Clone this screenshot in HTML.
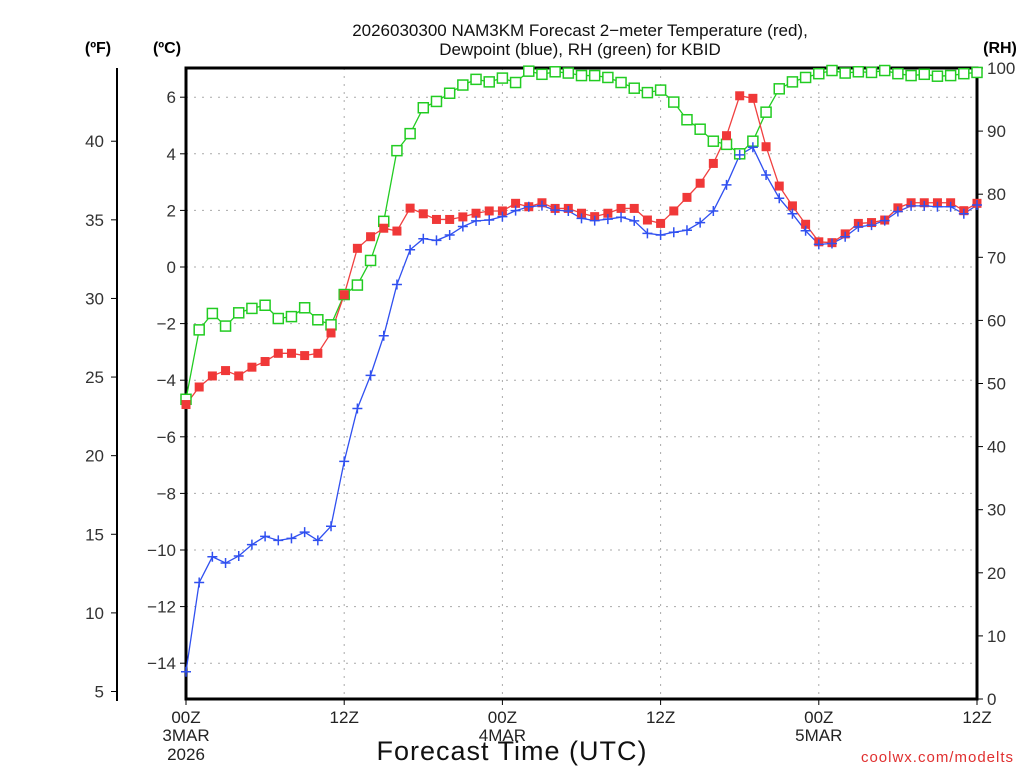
<!DOCTYPE html>
<html><head><meta charset="utf-8"><style>
body{margin:0;background:#fff;width:1024px;height:768px;overflow:hidden}
svg{font-family:"Liberation Sans",sans-serif}
</style></head><body>
<svg id="chart" width="1024" height="768" viewBox="0 0 1024 768" xmlns="http://www.w3.org/2000/svg">
<text x="580" y="36" text-anchor="middle" font-size="17" fill="#111">2026030300 NAM3KM Forecast 2−meter Temperature (red),</text>
<text x="580" y="55" text-anchor="middle" font-size="17" fill="#111">Dewpoint (blue), RH (green) for KBID</text>
<text x="98" y="53" text-anchor="middle" font-size="16" font-weight="bold">(ºF)</text>
<text x="167" y="53" text-anchor="middle" font-size="16" font-weight="bold">(ºC)</text>
<text x="1000" y="53" text-anchor="middle" font-size="16" font-weight="bold">(RH)</text>
<text x="512" y="760" text-anchor="middle" font-size="27" letter-spacing="1" fill="#111">Forecast Time (UTC)</text>
<text x="1014" y="762" text-anchor="end" font-size="15" fill="#e03030" letter-spacing="1">coolwx.com/modelts</text>
<g id="grid"></g><g id="axes"></g><g id="series"></g>
</svg>
<script>
const hours = Array.from({length:61},(_,i)=>i);
const tempC = [-4.86,-4.24,-3.85,-3.66,-3.85,-3.54,-3.34,-3.05,-3.05,-3.13,-3.05,-2.33,-0.98,0.66,1.07,1.37,1.27,2.08,1.88,1.68,1.68,1.77,
1.90,1.98,1.98,2.25,2.13,2.27,2.07,2.07,1.90,1.78,1.90,2.07,2.07,1.66,1.54,1.98,2.46,2.96,3.66,
4.64,6.05,5.96,4.25,2.86,2.16,1.51,0.89,0.86,1.17,1.54,1.57,1.66,2.09,2.27,2.27,2.27,2.27,1.99,2.25];
const dewC = [-14.3,-11.15,-10.24,-10.46,-10.21,-9.81,-9.52,-9.66,-9.59,-9.37,-9.66,-9.16,-6.87,-5.0,-3.83,-2.43,-0.62,0.61,1.0,0.94,
1.13,1.43,1.63,1.66,1.78,1.99,2.13,2.17,2.01,1.98,1.72,1.64,1.69,1.76,1.63,1.19,1.13,1.23,1.30,1.57,1.98,
2.90,3.96,4.23,3.25,2.43,1.88,1.28,0.80,0.83,1.07,1.42,1.48,1.64,1.96,2.16,2.16,2.13,2.13,1.88,2.19];
const rh = [47.5,58.5,61.1,59.1,61.2,61.9,62.4,60.3,60.6,62.0,60.1,59.3,64.1,65.6,69.5,75.7,86.9,89.6,93.7,94.7,
96.0,97.3,98.2,97.8,98.4,97.7,99.5,99.0,99.4,99.2,98.8,98.8,98.5,97.7,96.8,96.1,96.5,94.6,91.8,90.3,88.4,
87.9,86.4,88.4,93.0,96.7,97.8,98.5,99.1,99.6,99.2,99.4,99.3,99.6,99.1,98.8,99.0,98.7,98.8,99.1,99.3];
const cTicks = [6,4,2,0,-2,-4,-6,-8,-10,-12,-14];
const fTicks = [40,35,30,25,20,15,10,5];
const rhTicks = [100,90,80,70,60,50,40,30,20,10,0];
const xTickHours = [0,12,24,36,48,60];
const xTickLabels = ["00Z","12Z","00Z","12Z","00Z","12Z"];
const xDateLabels = {0:["3MAR","2026"],24:["4MAR"],48:["5MAR"]};

const L=186,R=977,T=68,B=699;
const xS=h=>L+(h/60)*(R-L);
const yC=c=>267-c*28.3;
const yF=f=>yC((f-32)/1.8);
const yR=r=>B-r*(B-T)/100;
const NS="http://www.w3.org/2000/svg";
function mk(tag,attrs,parent,text){const e=document.createElementNS(NS,tag);for(const k in attrs)e.setAttribute(k,attrs[k]);if(text!==undefined)e.textContent=text;parent.appendChild(e);return e;}
const grid=document.getElementById('grid'),axes=document.getElementById('axes'),ser=document.getElementById('series');

cTicks.forEach(c=>{
  const g=mk('line',{x1:L,x2:R,y1:yC(c),y2:yC(c),stroke:'#aaa','stroke-dasharray':'2 6'},grid);
  
  
  mk('line',{x1:L-6,x2:L,y1:yC(c),y2:yC(c),stroke:'#000'},axes);
  const t=mk('text',{x:L-10,y:yC(c)+6,'text-anchor':'end','font-size':17,fill:'#333'},axes,(c<0?'−':'')+Math.abs(c));
  
  
});
xTickHours.forEach((h,i)=>{
  if(h>0&&h<60){const g=mk('line',{x1:xS(h),x2:xS(h),y1:T,y2:B,stroke:'#aaa','stroke-dasharray':'2 6'},grid);
  
  }
  mk('line',{x1:xS(h),x2:xS(h),y1:B,y2:B+6,stroke:'#000'},axes);
  const t=mk('text',{x:xS(h),y:B+24,'text-anchor':'middle','font-size':17,fill:'#222'},axes,xTickLabels[i]);
  
  
  (xDateLabels[h]||[]).forEach((s,j)=>{const d=mk('text',{x:xS(h),y:B+42+j*19,'text-anchor':'middle','font-size':17,fill:'#222'},axes,s);
  
  });
});
mk('line',{x1:117,x2:117,y1:T,y2:B+2,stroke:'#000','stroke-width':2},axes);
fTicks.forEach(f=>{
  mk('line',{x1:111,x2:117,y1:yF(f),y2:yF(f),stroke:'#000'},axes);
  const t=mk('text',{x:104,y:yF(f)+6,'text-anchor':'end','font-size':17,fill:'#333'},axes,String(f));
  
  
});
rhTicks.forEach(r=>{
  mk('line',{x1:R,x2:R+6,y1:yR(r),y2:yR(r),stroke:'#000'},axes);
  const t=mk('text',{x:R+10,y:yR(r)+6,'font-size':17,fill:'#333'},axes,String(r));
  
  
});
const frame=mk('path',{d:`M${L},${T}H${R}V${B}H${L}Z`,fill:'none',stroke:'#000','stroke-width':3},axes);



function line(vals,yf,color,name){
  const p=mk('polyline',{points:vals.map((v,i)=>xS(hours[i])+','+yf(v)).join(' '),fill:'none',stroke:color,'stroke-width':1.3},ser);
  
  
}
line(rh,yR,'#22cc22','rh');
line(tempC,yC,'#f04040','temperature');
line(dewC,yC,'#3050f0','dewpoint');
rh.forEach((v,i)=>{const m=mk('rect',{x:xS(hours[i])-5,y:yR(v)-5,width:10,height:10,fill:'#fff',stroke:'#22cc22','stroke-width':1.5},ser);

});
tempC.forEach((v,i)=>{const m=mk('rect',{x:xS(hours[i])-4.5,y:yC(v)-4.5,width:9,height:9,fill:'#f03838'},ser);

});
dewC.forEach((v,i)=>{const x=xS(hours[i]),y=yC(v);const m=mk('path',{d:`M${x-5},${y}H${x+5}M${x},${y-5}V${y+5}`,stroke:'#3050f0','stroke-width':1.5},ser);

});
</script>
</body></html>
